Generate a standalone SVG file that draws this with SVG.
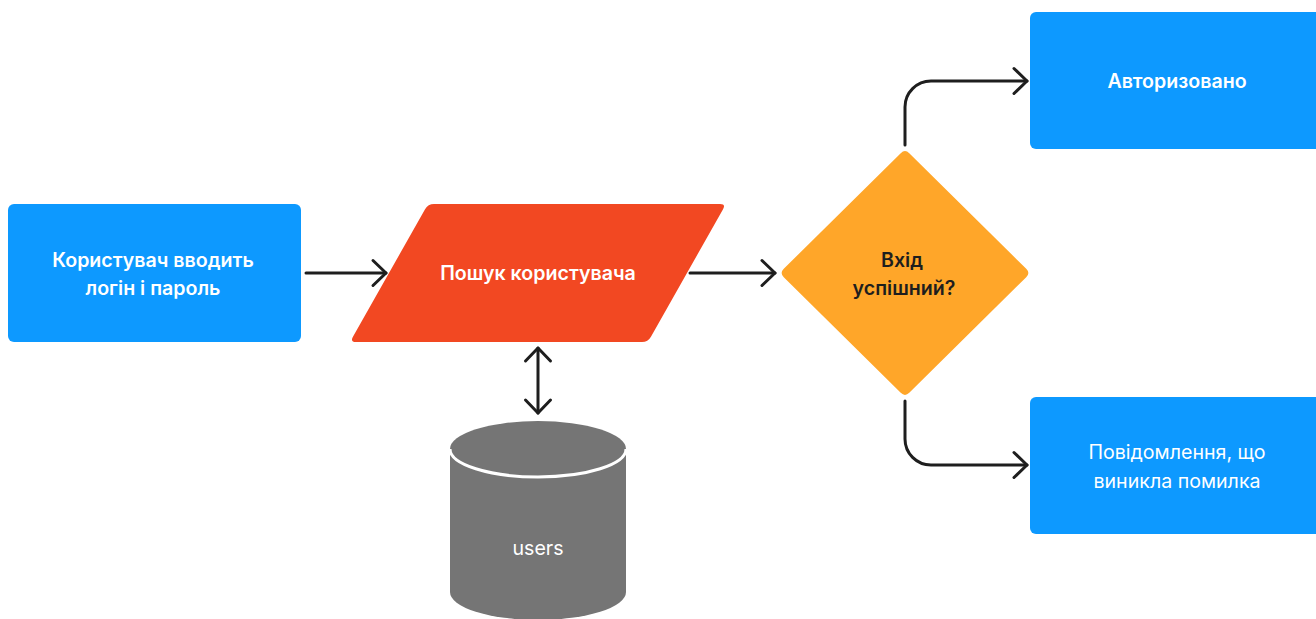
<svg xmlns="http://www.w3.org/2000/svg" width="1316" height="619" viewBox="0 0 1316 619">
  <style>
    .lbl { font-family: Inter, "Noto Sans", "Liberation Sans", sans-serif; font-size: 19.6px; text-anchor: middle; }
    .bold { font-weight: 600; }
    .white { fill: #FFFFFF; }
    .dark { fill: #1E1E1E; }
    .blue { fill: #0D99FF; }
    .conn { fill: none; stroke: #1E1E1E; stroke-width: 3; stroke-linecap: round; stroke-linejoin: round; }
  </style>
  <defs>
    <marker id="chev" markerUnits="userSpaceOnUse" markerWidth="40" markerHeight="40" viewBox="-20 -20 40 40" refX="0" refY="0" orient="auto-start-reverse">
      <path d="M-13,-12.5 L0,0 L-13,12.5" fill="none" stroke="#1E1E1E" stroke-width="3" stroke-linecap="round" stroke-linejoin="round"/>
    </marker>
  </defs>
  <rect width="1316" height="619" fill="#FFFFFF"/>

  <!-- connectors -->
  <g id="connectors">
    <path class="conn" d="M306,273 H386" marker-end="url(#chev)"/>
    <path class="conn" d="M690,273 H775" marker-end="url(#chev)"/>
    <path class="conn" d="M538,348 V413" marker-start="url(#chev)" marker-end="url(#chev)"/>
    <path class="conn" d="M905,145 V107 A26,26 0 0 1 931,81 H1027" marker-end="url(#chev)"/>
    <path class="conn" d="M905,401 V439 A26,26 0 0 0 931,465 H1027" marker-end="url(#chev)"/>
  </g>

  <!-- start: user enters credentials -->
  <g id="node-input">
    <rect class="blue" x="8" y="204" width="293" height="138" rx="6"/>
    <text class="lbl bold white" x="153" y="267">Користувач вводить</text>
    <text class="lbl bold white" x="153" y="295">логін і пароль</text>
  </g>

  <!-- user lookup (parallelogram) -->
  <g id="node-lookup">
    <path fill="#F24822" d="M434,204 H720 Q726,204 723.05,209.2 L650.95,336.8 Q648,342 642,342 H356 Q350,342 352.95,336.8 L425.05,209.2 Q428,204 434,204 Z"/>
    <text class="lbl bold white" x="538" y="280">Пошук користувача</text>
  </g>

  <!-- users database -->
  <g id="node-users">
    <path fill="#757575" d="M450,449 V592 A88,28 0 0 0 626,592 V449 A88,28 0 0 0 450,449 Z"/>
    <path d="M450,449 A88,28 0 0 0 626,449" fill="none" stroke="#FFFFFF" stroke-width="3"/>
    <text class="lbl white" x="538" y="555">users</text>
  </g>

  <!-- decision -->
  <g id="node-decision">
    <path fill="#FFA629" d="M900.73,153.22 Q905,149 909.27,153.22 L1026.23,268.78 Q1030.5,273 1026.23,277.22 L909.27,392.78 Q905,397 900.73,392.78 L783.77,277.22 Q779.5,273 783.77,268.78 Z"/>
    <text class="lbl bold dark" x="902" y="267">Вхід</text>
    <text class="lbl bold dark" x="904" y="295">успішний?</text>
  </g>

  <!-- success -->
  <g id="node-authorized">
    <rect class="blue" x="1030" y="12" width="300" height="137" rx="6"/>
    <text class="lbl bold white" x="1177" y="88">Авторизовано</text>
  </g>

  <!-- failure -->
  <g id="node-error">
    <rect class="blue" x="1030" y="397" width="300" height="137" rx="6"/>
    <text class="lbl white" x="1177" y="459">Повідомлення, що</text>
    <text class="lbl white" x="1177" y="488">виникла помилка</text>
  </g>
</svg>
